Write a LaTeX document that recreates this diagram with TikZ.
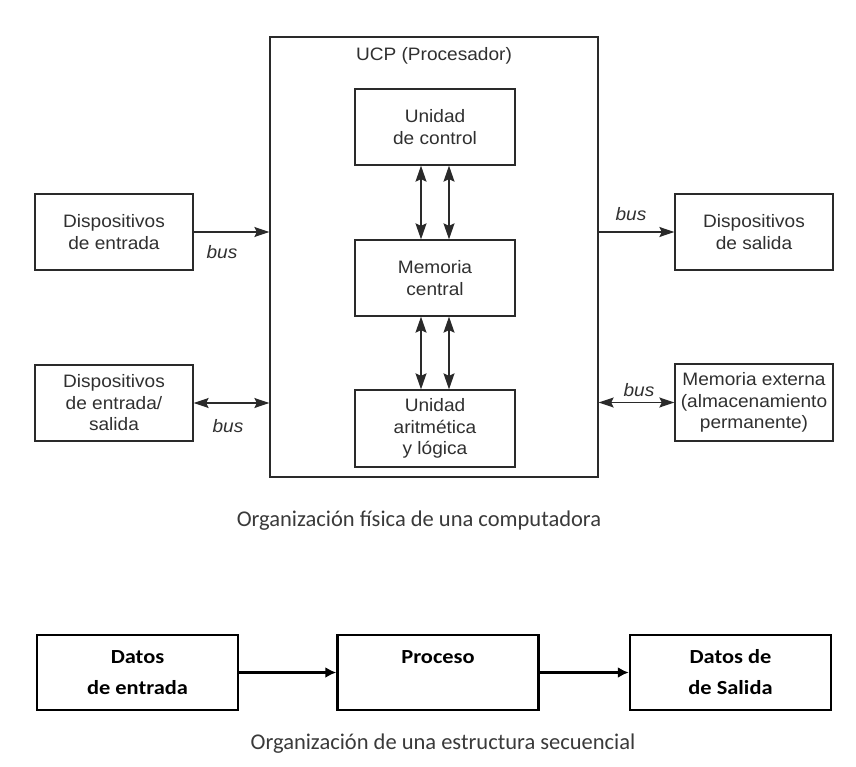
\documentclass[tikz,border=0pt]{standalone}
\usepackage{fontspec}
\setmainfont{Liberation Sans}
\newfontfamily\topf{Liberation Sans}[FakeStretch=1.06]
\newfontfamily\calf{Carlito}
\newfontfamily\calb{Carlito}[FakeStretch=1.12]
\usetikzlibrary{arrows.meta}
\definecolor{linec}{HTML}{2A2A2A}
\definecolor{txtc}{HTML}{303030}
\definecolor{capc}{HTML}{3A3A3A}
\begin{document}
\begin{tikzpicture}[x=1pt,y=-1pt,
  tbox/.style={draw=linec, line width=1.3pt, minimum width=158pt, minimum height=76pt,
    align=center, inner sep=0pt, text=txtc, font=\topf\fontsize{18}{21.5}\selectfont},
  ibox/.style={tbox, minimum width=160pt},
  buslbl/.style={text=txtc, inner sep=0pt, font=\topf\itshape\fontsize{18}{21}\selectfont},
  tarrow/.style={draw=linec, line width=1.3pt, -{Stealth[length=15pt,width=10pt,inset=2.5pt]}},
  tarrowb/.style={draw=linec, line width=1.3pt, {Stealth[length=15pt,width=10pt,inset=2.5pt]}-{Stealth[length=15pt,width=10pt,inset=2.5pt]}},
  varrow/.style={draw=linec, line width=1.3pt, {Stealth[length=16pt,width=11pt,inset=2.5pt]}-{Stealth[length=16pt,width=11pt,inset=2.5pt]}},
  bbox/.style={draw=black, line width=2.5pt, minimum width=201pt, minimum height=75pt,
    align=center, inner sep=0pt, text=black, font=\calb\bfseries\fontsize{20}{31}\selectfont},
  barrow/.style={draw=black, line width=2.2pt, -{Latex[length=11pt,width=11pt]}},
  captxt/.style={text=capc, inner sep=0pt, font=\calf\fontsize{22.5}{27}\selectfont}
]
\fill[white] (0,0) rectangle (856,767);
\useasboundingbox (0,0) rectangle (856,767);

% CPU box
\node[draw=linec, line width=1.3pt, minimum width=328pt, minimum height=440pt, inner sep=0pt] (ucp) at (434,257) {};
\node[text=txtc, inner sep=0pt, font=\topf\fontsize{18}{21}\selectfont] (ucplbl) at (434,56) {UCP (Procesador)};

\node[ibox] (uc) at (435,127) {Unidad\\de control};
\node[ibox] (mc) at (435,278) {Memoria\\central};
\node[ibox, minimum height=77pt] (alu) at (435,428.5) {Unidad\\aritmética\\y lógica};

\draw[varrow] ([xshift=-14pt]uc.south) -- ([xshift=-14pt]mc.north);
\draw[varrow] ([xshift=14pt]uc.south) -- ([xshift=14pt]mc.north);
\draw[varrow] ([xshift=-14pt]mc.south) -- ([xshift=-14pt]alu.north);
\draw[varrow] ([xshift=14pt]mc.south) -- ([xshift=14pt]alu.north);

% peripherals
\node[tbox] (din) at (114,232) {Dispositivos\\de entrada};
\node[tbox] (dio) at (114,403) {Dispositivos\\de entrada/\\salida};
\node[tbox] (dsal) at (754,232) {Dispositivos\\de salida};
\node[tbox, minimum height=77pt] (mext) at (754,402.5) {Memoria externa\\(almacenamiento\\permanente)};

\draw[tarrow] (din.east) -- (din.east -| ucp.west);
\draw[tarrowb] (dio.east) -- (dio.east -| ucp.west);
\draw[tarrow] (dsal.west -| ucp.east) -- (dsal.west);
\draw[tarrowb] (mext.west -| ucp.east) -- (mext.west);

\node[buslbl] (bus1) at (222,252) {bus};
\node[buslbl] (bus2) at (228,426) {bus};
\node[buslbl] (bus3) at (631,214) {bus};
\node[buslbl] (bus4) at (639,390) {bus};

\node[captxt] (cap1) at (419,521) {Organización física de una computadora};

% sequential structure
\node[bbox] (b1) at (137.5,672.5) {Datos\\de entrada};
\node[bbox] (b2) at (438,672.5) {Proceso\\\mbox{}};
\node[bbox] (b3) at (730.5,672.5) {Datos de\\de Salida};
\draw[barrow] (b1.east) -- (b2.west);
\draw[barrow] (b2.east) -- (b3.west);

\node[captxt] (cap2) at (443,744) {Organización de una estructura secuencial};
\end{tikzpicture}
\end{document}
